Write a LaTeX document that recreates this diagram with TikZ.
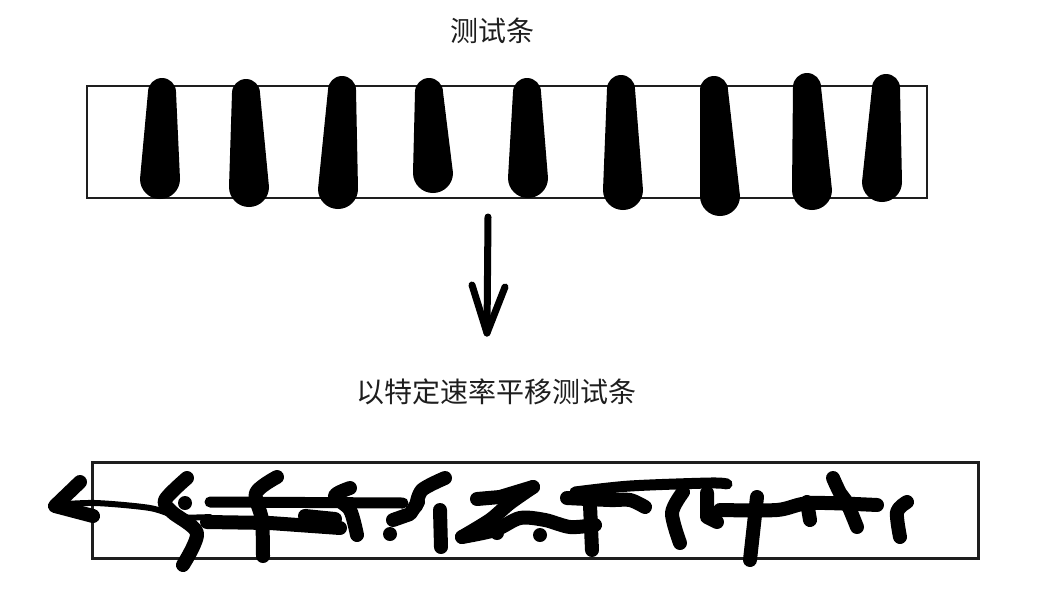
\documentclass[tikz,border=0pt]{standalone}
\usepackage{fontspec}
\newfontfamily\cjk{Noto Sans CJK SC}
\definecolor{inkc}{HTML}{000000}
\definecolor{txtc}{HTML}{1E1E1E}
\newcommand\tbar[4]{\fill[inkc] ({#1-14},{#2}) arc[start angle=180,end angle=0,radius=14pt] -- ({#3+20},{#4}) arc[start angle=0,end angle=-180,radius=20pt] -- cycle;}
\tikzset{
  strip/.style={draw=txtc, fill=none, inner sep=0pt},
  lbl/.style={text=txtc, font=\cjk\fontsize{28pt}{32pt}\selectfont, inner sep=0pt},
  ink/.style={draw=inkc, line width=14pt, line cap=round, line join=round},
  thinink/.style={draw=inkc, line width=6pt, line cap=round, line join=round},
  midink/.style={draw=inkc, line width=11pt, line cap=round, line join=round},
  arrowink/.style={draw=inkc, line width=7pt, line cap=round, line join=round}
}
\begin{document}
\begin{tikzpicture}[x=1pt,y=-1pt]
\useasboundingbox (0,0) rectangle (1053,606);
% titles
\node[lbl] (t1) at (492,31) {测试条};
\node[lbl] (t2) at (496,392) {以特定速率平移测试条};
% top strip
\node[strip, line width=1.8pt, minimum width=840pt, minimum height=112pt] (s1) at (507,142) {};
\tbar{162}{92}{160}{179}
\tbar{246}{93}{249}{187}
\tbar{342}{90}{338}{189}
\tbar{429}{92}{433}{173}
\tbar{527}{92}{528}{178}
\tbar{621}{89}{623}{190}
\tbar{714}{90}{720}{196}
\tbar{807}{87}{812}{190}
\tbar{886}{88}{882}{182}
% arrow
\coordinate (a1) at (488,217);
\coordinate (a2) at (487,333);
\coordinate (hl) at (472,285);
\coordinate (hr) at (505,287);
\draw[arrowink] (a1) -- (a2);
\draw[arrowink] (hl) -- (a2) -- (hr);
% bottom strip
\node[strip, line width=3pt, minimum width=886pt, minimum height=96pt] (s2) at (535,510) {};
% scribbles
\draw[thinink] plot[smooth] coordinates {(53,505) (95,503) (150,508) (180,517) (210,517)};
\draw[ink] (80,482) -- (55,506) -- (93,516);
\draw[ink] plot[smooth] coordinates {(187,478) (165,500) (172,512) (197,533) (183,565)};
\fill[inkc] (185,503) circle (7pt);
\draw[midink] (210,502) -- (403,503);
\draw[ink] (207,522) -- (270,523) -- (340,528);
\draw[ink] plot[smooth] coordinates {(277,477) (256,493) (262,520) (263,556)};
\draw[ink] (305,516) -- (335,519);
\draw[ink] plot[smooth] coordinates {(350,488) (335,496) (350,510) (357,535)};
\fill[inkc] (390,534) circle (7pt);
\draw[ink] plot[smooth] coordinates {(445,478) (422,490) (416,506)};
\draw[ink] (393,520) -- (410,514) -- (418,502);
\draw[ink] (440,510) -- (441,547);
\draw[ink] (477,499) -- (500,497) -- (533,487);
\draw[ink] plot[smooth] coordinates {(533,487) (510,503) (490,520) (462,537)};
\draw[ink] plot[smooth] coordinates {(462,537) (495,530) (520,518) (545,520) (570,527) (595,525)};
\fill[inkc] (497,533) circle (7pt);
\fill[inkc] (540,535) circle (7pt);
\draw[ink] plot[smooth] coordinates {(567,498) (610,500) (630,500) (645,507)};
\draw[midink] plot[smooth] coordinates {(575,492) (630,486) (710,483) (727,484)};
\draw[ink] (590,505) -- (592,550);
\draw[ink] plot[smooth] coordinates {(683,492) (672,513) (680,543)};
\draw[ink] (707,493) -- (707,517) -- (717,522);
\draw[ink] plot[smooth] coordinates {(720,510) (777,510) (810,503) (877,505)};
\draw[ink] (757,497) -- (750,560);
\draw[ink] (807,502) -- (810,520);
\draw[ink] plot[smooth] coordinates {(833,478) (840,493) (847,503) (857,527)};
\draw[ink] plot[smooth] coordinates {(907,502) (897,512) (900,537)};
\end{tikzpicture}
\end{document}
